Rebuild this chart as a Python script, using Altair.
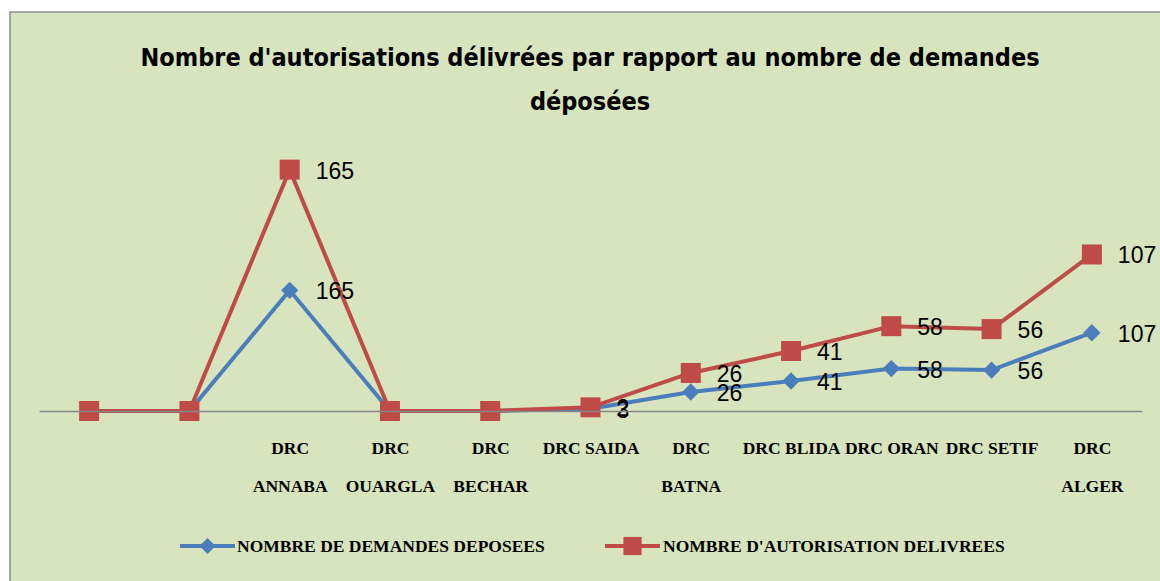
import json
import altair as alt
import pandas as pd

labels = ["", "", "DRC|ANNABA", "DRC|OUARGLA", "DRC|BECHAR", "DRC SAIDA",
          "DRC|BATNA", "DRC BLIDA", "DRC ORAN", "DRC SETIF", "DRC|ALGER"]
demandes = [0, 0, 165, 0, 0, 3, 26, 41, 58, 56, 107]
autorisations = [0, 0, 165, 0, 0, 2, 26, 41, 58, 56, 107]
series = ["NOMBRE DE DEMANDES DEPOSEES", "NOMBRE D'AUTORISATION DELIVREES"]
colors = ["#4A7EBB", "#BE4B48"]
title_lines = ["Nombre d'autorisations délivrées par rapport au nombre de demandes", "déposées"]

rows = []
for i in range(len(labels)):
    rows.append({"idx": i, "series": series[0], "value": demandes[i],
                 "pos": demandes[i], "order": 0})
    rows.append({"idx": i, "series": series[1], "value": autorisations[i],
                 "pos": demandes[i] + autorisations[i], "order": 1})
df = pd.DataFrame(rows)
one = pd.DataFrame({"k": [0]})

label_expr = "split(" + json.dumps(labels) + "[datum.value], '|')"

W, H = 1103, 256
PADL, PADT = 39, 155

x = alt.X("idx:O", title=None,
          axis=alt.Axis(labelExpr=label_expr, labelAngle=0, ticks=False,
                        labelPadding=28, labelBaseline="top",
                        labelFont="Liberation Serif", labelFontWeight="bold",
                        labelFontSize=17.5, labelLineHeight=38, labelColor="#000000",
                        domainColor="#868686", domainWidth=1.5, zindex=1))
y = alt.Y("pos:Q", axis=None, scale=alt.Scale(domain=[0, 350], nice=False, zero=True))
col = alt.Color("series:N", scale=alt.Scale(domain=series, range=colors), legend=None)

frame = alt.Chart(one).mark_rect(fill="#D7E4BD", stroke="#8C8C8C", strokeWidth=1.5).encode(
    x=alt.value(10 - PADL), x2=alt.value(1170 - PADL),
    y=alt.value(12 - PADT), y2=alt.value(590 - PADT))

title_font = "'Liberation Sans Narrow', 'DejaVu Sans Condensed', 'Roboto Condensed', sans-serif"
titles = []
for t, ty in zip(title_lines, [58, 102]):
    titles.append(alt.Chart(one).mark_text(
        align="center", baseline="middle", font=title_font, fontSize=25,
        fontWeight="bold", color="#000000", text=t).encode(
        x=alt.value(590 - PADL), y=alt.value(ty - PADT)))

base = alt.Chart(df)
lines = base.mark_line(strokeWidth=4).encode(x=x, y=y, color=col, detail="series:N")
blue_pts = base.transform_filter(alt.datum.order == 0).mark_point(
    shape="diamond", filled=True, size=300, opacity=1, color=colors[0]).encode(x=x, y=y)
red_pts = base.transform_filter(alt.datum.order == 1).mark_point(
    shape="square", filled=True, size=400, opacity=1, color=colors[1]).encode(x=x, y=y)
texts = base.transform_filter(alt.datum.value > 0).mark_text(
    align="left", baseline="middle", dx=26, dy=2, font="Liberation Sans",
    fontSize=23, color="#000000").encode(x=x, y=y, text="value:Q")

# legend
LY = 546 - PADT
leg = []
for s, c, shp, sz, x0, x1, tx in [(series[0], colors[0], "diamond", 260, 180, 235, 237),
                                  (series[1], colors[1], "square", 330, 605, 660, 663)]:
    leg.append(alt.Chart(one).mark_rule(color=c, strokeWidth=4).encode(
        x=alt.value(x0 - PADL), x2=alt.value(x1 - PADL), y=alt.value(LY)))
    leg.append(alt.Chart(one).mark_point(shape=shp, filled=True, size=sz, opacity=1, color=c).encode(
        x=alt.value((x0 + x1) / 2 - PADL), y=alt.value(LY)))
    leg.append(alt.Chart(one).mark_text(align="left", baseline="middle", font="Liberation Serif",
                                        fontWeight="bold", fontSize=17.5, color="#000000", text=s).encode(
        x=alt.value(tx - PADL), y=alt.value(LY + 1)))

chart = alt.layer(frame, *titles, lines, blue_pts, red_pts, texts, *leg).properties(
    width=W, height=H,
    autosize=alt.AutoSizeParams(type="none"),
    padding={"left": PADL, "top": PADT, "right": 1160 - PADL - W, "bottom": 581 - PADT - H},
    background="#FFFFFF",
).configure_view(stroke=None)

chart.save("out.html", embed_options={"renderer": "svg", "actions": False})
